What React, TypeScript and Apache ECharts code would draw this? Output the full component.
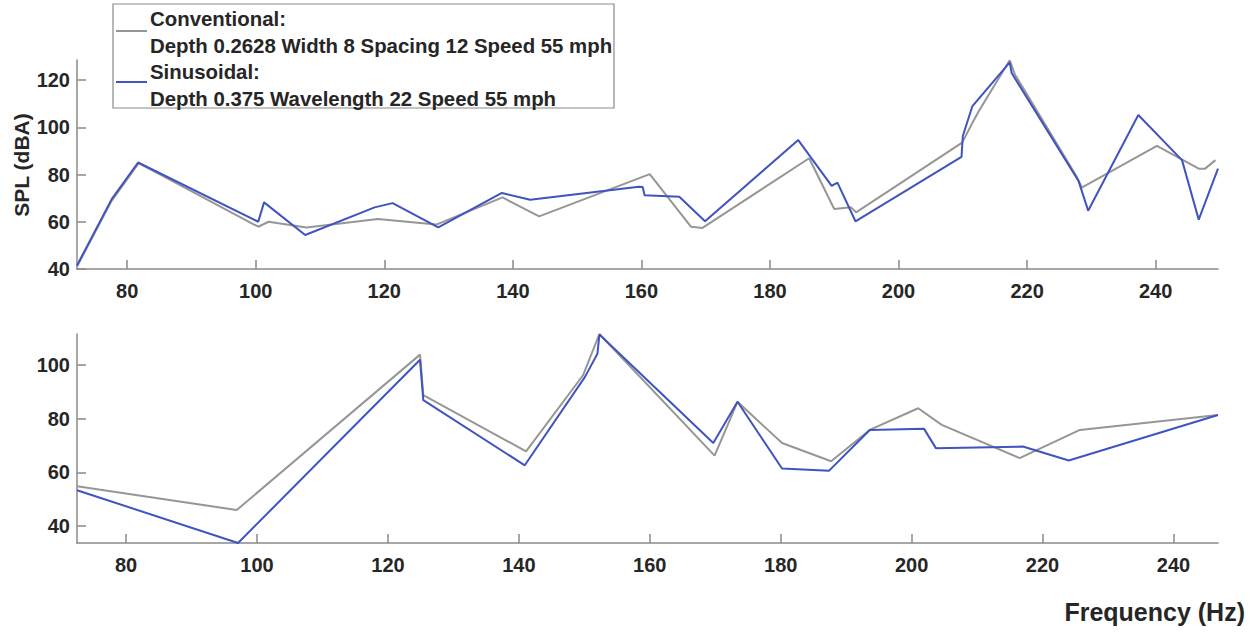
import React, { useEffect, useRef } from "react";
import * as echarts from "echarts";

// ---- Data ----
const topConvHz = [72.2, 77.5, 81.8, 100.4, 102.0, 107.9, 119.0, 128.1, 138.4, 144.1, 161.3, 167.7, 169.5, 186.1, 190.0, 192.6, 193.4, 209.9, 211.5, 212.5, 217.3, 218.1, 227.8, 228.5, 240.2, 246.7, 247.7, 249.3];
const topConvSpl = [41.0, 68.5, 84.8, 57.9, 60.0, 57.6, 61.2, 58.8, 70.3, 62.3, 80.2, 57.9, 57.4, 86.9, 65.4, 66.1, 64.0, 93.5, 101.9, 106.9, 128.4, 122.4, 78.7, 74.5, 92.1, 82.5, 82.5, 86.1];

const topSinHz = [72.2, 77.6, 81.7, 100.4, 101.3, 107.7, 118.5, 121.3, 128.4, 138.3, 142.7, 159.6, 160.2, 160.5, 165.9, 169.9, 184.4, 189.6, 190.5, 193.3, 209.8, 210.0, 211.5, 217.3, 217.6, 228.0, 229.5, 237.3, 244.1, 246.7, 249.7];
const topSinSpl = [41.5, 69.6, 85.1, 60.0, 68.2, 54.4, 66.1, 67.9, 57.6, 72.2, 69.3, 74.8, 74.7, 71.2, 70.6, 60.2, 94.6, 75.2, 76.6, 60.2, 87.5, 96.3, 109.0, 127.5, 123.0, 77.3, 64.7, 105.2, 86.1, 60.9, 82.5];

const botConvHz = [72.5, 96.9, 124.9, 125.4, 141.1, 149.8, 152.3, 169.9, 173.4, 180.2, 187.7, 193.6, 201.0, 204.6, 216.5, 225.7, 246.8];
const botConvSpl = [54.8, 45.9, 103.9, 88.8, 67.8, 96.2, 111.6, 66.2, 86.3, 70.9, 64.1, 75.8, 83.9, 77.7, 65.3, 75.8, 81.4];

const botSinHz = [72.5, 97.1, 124.9, 125.4, 140.9, 150.1, 152.0, 152.3, 169.7, 173.4, 180.2, 187.4, 193.6, 201.9, 203.7, 217.0, 224.0, 246.8];
const botSinSpl = [53.3, 33.6, 102.0, 86.9, 62.6, 95.6, 104.2, 111.4, 70.9, 86.3, 61.4, 60.6, 75.8, 76.2, 69.0, 69.6, 64.4, 81.4];

const xTicks = [80, 100, 120, 140, 160, 180, 200, 220, 240];
const topYTicks = [40, 60, 80, 100, 120];
const botYTicks = [40, 60, 80, 100];

const legendConvTitle = "Conventional:";
const legendConvDesc = "Depth 0.2628 Width 8 Spacing 12 Speed 55 mph";
const legendSinTitle = "Sinusoidal:";
const legendSinDesc = "Depth 0.375 Wavelength 22 Speed 55 mph";
const yName = "SPL (dBA)";
const xName = "Frequency (Hz)";

// ---- Styles ----
const GRAY = "#969696";
const BLUE = "#4053c0";
const AXIS = "#8a8a8a";
const TEXT = "#262626";
const FONT = "'Liberation Sans', Arial, Helvetica, sans-serif";

function pairs(xs: number[], ys: number[]) {
  return xs.map((x, i) => [x, ys[i]]);
}

function xAxisCfg(gridIndex: number, min: number, max: number) {
  return {
    type: "value",
    gridIndex,
    min,
    max,
    axisLine: { show: true, onZero: false, lineStyle: { color: AXIS, width: 1.5 } },
    axisTick: { show: true, inside: true, length: 9, customValues: xTicks, lineStyle: { color: AXIS, width: 1.5 } },
    axisLabel: { customValues: xTicks, color: TEXT, fontSize: 20, fontWeight: "bold", fontFamily: FONT, margin: 12 },
    splitLine: { show: false },
  };
}

function yAxisCfg(gridIndex: number, min: number, max: number, ticks: number[]) {
  return {
    type: "value",
    gridIndex,
    min,
    max,
    axisLine: { show: true, onZero: false, lineStyle: { color: AXIS, width: 1.5 } },
    axisTick: { show: true, inside: true, length: 9, customValues: ticks, lineStyle: { color: AXIS, width: 1.5 } },
    axisLabel: { customValues: ticks, color: TEXT, fontSize: 20, fontWeight: "bold", fontFamily: FONT, margin: 7 },
    splitLine: { show: false },
  };
}

function lineSeries(name: string, xIdx: number, data: number[][], color: string) {
  return {
    type: "line",
    name,
    xAxisIndex: xIdx,
    yAxisIndex: xIdx,
    data,
    showSymbol: false,
    symbol: "none",
    lineStyle: { color, width: 2 },
    itemStyle: { color },
  };
}

export default function App() {
  const ref = useRef<HTMLDivElement>(null);
  useEffect(() => {
    document.body.style.margin = "0";
    const chart = echarts.init(ref.current!, null, { renderer: "svg" });
    const legText = (text: string, y: number) => ({
      type: "text",
      x: 150,
      y,
      z: 102,
      style: { text, fill: TEXT, font: `bold 20.4px ${FONT}`, align: "left", verticalAlign: "middle" },
    });
    chart.setOption({
      animation: false,
      backgroundColor: "#ffffff",
      grid: [
        { left: 77, right: 38, top: 60, height: 209 },
        { left: 77, right: 38, top: 334, height: 209 },
      ],
      xAxis: [xAxisCfg(0, 72.2, 249.7), xAxisCfg(1, 72.5, 246.8)],
      yAxis: [yAxisCfg(0, 40, 128.5, topYTicks), yAxisCfg(1, 33.6, 111.6, botYTicks)],
      series: [
        lineSeries("Conventional", 0, pairs(topConvHz, topConvSpl), GRAY),
        lineSeries("Sinusoidal", 0, pairs(topSinHz, topSinSpl), BLUE),
        lineSeries("Conventional", 1, pairs(botConvHz, botConvSpl), GRAY),
        lineSeries("Sinusoidal", 1, pairs(botSinHz, botSinSpl), BLUE),
      ],
      graphic: [
        {
          type: "group",
          z: 100,
          children: [
            {
              type: "rect",
              z: 100,
              shape: { x: 113, y: 4, width: 501, height: 104 },
              style: { fill: "#ffffff", stroke: AXIS, lineWidth: 1.2 },
            },
            { type: "line", z: 102, shape: { x1: 116, y1: 31, x2: 147, y2: 31 }, style: { stroke: GRAY, lineWidth: 2 } },
            { type: "line", z: 102, shape: { x1: 116, y1: 82, x2: 147, y2: 82 }, style: { stroke: BLUE, lineWidth: 2 } },
            legText(legendConvTitle, 19),
            legText(legendConvDesc, 46),
            legText(legendSinTitle, 72),
            legText(legendSinDesc, 99),
          ],
        },
        {
          type: "text",
          x: 21,
          y: 165,
          rotation: Math.PI / 2,
          style: { text: yName, fill: TEXT, font: `bold 21px ${FONT}`, align: "center", verticalAlign: "middle" },
        },
        {
          type: "text",
          x: 1245,
          y: 612,
          style: { text: xName, fill: TEXT, font: `bold 25px ${FONT}`, align: "right", verticalAlign: "middle" },
        },
      ],
    });
    return () => chart.dispose();
  }, []);
  return <div ref={ref} style={{ width: 1256, height: 632 }} />;
}
